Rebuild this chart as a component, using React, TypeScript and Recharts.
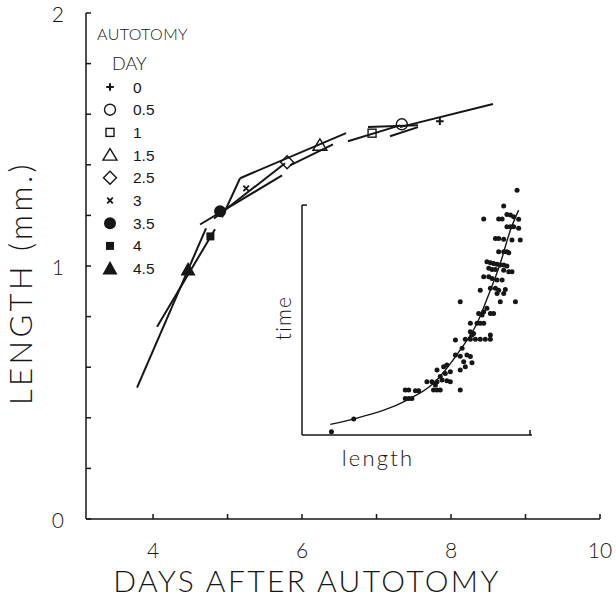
import React from 'react'
import { ComposedChart, Line, Scatter, XAxis, YAxis, Label, ReferenceLine } from 'recharts'

const ink = '#161616'
const thin = 'Lato, "DejaVu Sans", sans-serif'
const plain = '"Liberation Sans", Arial, sans-serif'

// autotomy day of each curve, with the point it is marked at
const days = ['0', '0.5', '1', '1.5', '2.5', '3', '3.5', '4', '4.5']
const dayX = [7.85, 7.34, 6.94, 6.24, 5.8, 5.25, 4.9, 4.77, 4.47]
const dayY = [1.572, 1.56, 1.525, 1.477, 1.41, 1.307, 1.216, 1.117, 0.986]

// short tangent lines through the marked points: [x1, y1, x2, y2]
const tangents = [
  [7.315, 1.549, 8.564, 1.64],
  [7.181, 1.513, 7.557, 1.549],
  [6.617, 1.493, 7.315, 1.556],
  [6.886, 1.549, 7.557, 1.556],
  [5.839, 1.398, 6.416, 1.481],
  [5.168, 1.347, 6.591, 1.525],
  [4.819, 1.188, 5.772, 1.406],
  [4.926, 1.192, 5.168, 1.347],
  [4.631, 1.164, 5.732, 1.358],
  [4.054, 0.76, 4.832, 1.145],
  [3.785, 0.519, 4.711, 1.149],
]

const xTicks = [4, 5, 6, 7, 8, 9, 10]
const xLabels = [4, 6, 8, 10]
const yTicks = [0, 0.2, 0.4, 0.6, 0.8, 1, 1.2, 1.4, 1.6, 1.8, 2]
const yLabels = [0, 1, 2]

// inset: time against length (arbitrary units)
const insetLength = [
  93.5, 87.7, 79.0, 85.5, 87.0, 89.1, 90.6, 92.0, 94.2, 94.2,
  84.1, 85.5, 87.7, 91.3, 94.9, 89.1, 90.6, 92.0, 85.5, 87.7,
  89.1, 89.9, 80.4, 81.9, 83.3, 84.8, 86.2, 87.7, 89.1, 81.2,
  82.6, 84.1, 87.7, 89.9, 91.3, 79.0, 81.2, 82.6, 84.8, 87.0,
  77.5, 81.9, 84.1, 85.5, 88.4, 87.7, 84.8, 68.8, 86.2, 92.8,
  80.4, 79.0, 76.8, 78.3, 81.9, 83.3, 73.2, 76.1, 77.5, 79.0,
  73.2, 74.6, 73.9, 66.7, 71.0, 73.2, 75.4, 77.5, 79.7, 81.9,
  81.9, 69.6, 66.7, 68.8, 71.7, 73.2, 70.3, 73.9, 68.8, 71.0,
  58.7, 61.6, 63.0, 64.5, 62.3, 60.1, 54.3, 56.5, 58.7, 60.9,
  63.0, 64.5, 58.0, 57.2, 58.7, 60.1, 44.9, 46.4, 49.3, 50.7,
  44.9, 46.4, 47.8, 68.8, 22.5, 12.8,
]
const insetTime = [
  106.5, 99.6, 93.9, 93.9, 93.9, 95.9, 95.7, 94.9, 93.8, 89.9,
  85.5, 85.5, 85.1, 84.8, 84.8, 90.6, 90.6, 90.6, 79.7, 79.7,
  79.7, 79.3, 75.4, 74.9, 74.6, 74.3, 73.9, 73.9, 73.5, 72.5,
  72.0, 72.0, 71.7, 71.0, 71.0, 68.8, 68.8, 68.1, 67.4, 67.4,
  63.0, 63.8, 63.8, 63.0, 63.3, 61.6, 61.6, 58.0, 58.0, 58.0,
  55.1, 53.6, 52.9, 52.2, 52.9, 52.9, 48.6, 48.6, 48.6, 48.6,
  44.9, 44.2, 43.5, 41.3, 41.6, 41.6, 41.6, 41.6, 41.6, 41.6,
  43.5, 37.7, 34.8, 34.3, 34.8, 34.1, 31.9, 31.4, 28.3, 29.7,
  28.3, 29.7, 30.4, 27.5, 26.8, 25.4, 23.2, 23.2, 23.2, 23.9,
  23.6, 23.2, 21.7, 19.6, 19.6, 19.6, 19.6, 19.6, 19.3, 19.3,
  15.9, 15.9, 15.9, 19.6, 7.0, 1.4,
]
const fitLength = [12.3, 22.5, 45.7, 57.2, 68.8, 76.1, 81.9, 86.2, 90.6, 94.2]
const fitTime = [4.6, 7.0, 15.2, 22.5, 37.0, 48.6, 63.0, 74.6, 89.1, 97.8]

function Marker({ kind, cx, cy }: { kind: string; cx: number; cy: number }) {
  const w = 1.4
  switch (kind) {
    case '0':
      return <path d={`M${cx - 3.8} ${cy}H${cx + 3.8}M${cx} ${cy - 3.8}V${cy + 3.8}`} stroke={ink} strokeWidth={2} />
    case '0.5':
      return <circle cx={cx} cy={cy} r={5.5} fill="none" stroke={ink} strokeWidth={w} />
    case '1':
      return <rect x={cx - 4} y={cy - 4} width={8} height={8} fill="none" stroke={ink} strokeWidth={w} />
    case '1.5':
      return <path d={`M${cx} ${cy - 6.5}L${cx + 7} ${cy + 5}H${cx - 7}Z`} fill="none" stroke={ink} strokeWidth={w} />
    case '2.5':
      return <path d={`M${cx} ${cy - 6.5}L${cx + 6.5} ${cy}L${cx} ${cy + 6.5}L${cx - 6.5} ${cy}Z`} fill="none" stroke={ink} strokeWidth={w} />
    case '3':
      return <path d={`M${cx - 2.8} ${cy - 2.8}L${cx + 2.8} ${cy + 2.8}M${cx + 2.8} ${cy - 2.8}L${cx - 2.8} ${cy + 2.8}`} stroke={ink} strokeWidth={1.8} />
    case '3.5':
      return <circle cx={cx} cy={cy} r={6} fill={ink} />
    case '4':
      return <rect x={cx - 4} y={cy - 4} width={8} height={8} fill={ink} />
    default:
      return <path d={`M${cx} ${cy - 7.5}L${cx + 7.5} ${cy + 6}H${cx - 7.5}Z`} fill={ink} />
  }
}

// ticks point into the plot, as in the original figure
function XTick({ x, payload }: any) {
  const v = payload.value
  return (
    <g>
      <line x1={x} x2={x} y1={519} y2={514} stroke={ink} strokeWidth={1.5} />
      {xLabels.includes(v) && (
        <text x={x} y={558} textAnchor="middle" fontFamily={thin} fontWeight={300} fontSize={21} fill={ink}>{v}</text>
      )}
    </g>
  )
}

function YTick({ y, payload }: any) {
  const v = payload.value
  return (
    <g>
      <line x1={86} x2={91} y1={y} y2={y} stroke={ink} strokeWidth={1.5} />
      {yLabels.includes(v) && (
        <text x={64} y={y + 9} textAnchor="end" fontFamily={thin} fontWeight={300} fontSize={21} fill={ink}>{v}</text>
      )}
    </g>
  )
}

function LegendBox() {
  return (
    <svg width={616} height={599} style={{ position: 'absolute', left: 0, top: 0, pointerEvents: 'none' }}>
      <text x={97} y={40} fontFamily={thin} fontWeight={300} fontSize={16} letterSpacing={0.4} fill={ink}>AUTOTOMY</text>
      <text x={112} y={70} fontFamily={thin} fontWeight={300} fontSize={18} fill={ink}>DAY</text>
      {days.map((d, i) => {
        const cy = 87 + i * 22.7
        return (
          <g key={d}>
            <Marker kind={d} cx={110} cy={cy} />
            <text x={133} y={cy + 5.5} fontFamily={plain} fontSize={15.5} fill={ink}>{d}</text>
          </g>
        )
      })}
    </svg>
  )
}

function Inset() {
  const pts = insetLength.map((x, i) => ({ x, y: insetTime[i] }))
  const fit = fitLength.map((x, i) => ({ x, y: fitTime[i] }))
  return (
    <div style={{ position: 'absolute', left: 262, top: 180 }}>
      <ComposedChart width={280} height={295} margin={{ top: 9, right: 10, bottom: 0, left: 20 }}>
        <XAxis type="number" dataKey="x" domain={[0, 100]} ticks={[100]} tickLine={false}
          tick={({ x }: any) => <line x1={x} x2={x} y1={255} y2={250} stroke={ink} strokeWidth={1.5} />}
          height={40} stroke={ink} strokeWidth={1.5}>
          <Label content={() => (
            <text x={116} y={286} textAnchor="middle" fontFamily={thin} fontWeight={300} fontSize={22} letterSpacing={2.2} fill={ink}>length</text>
          )} />
        </XAxis>
        <YAxis type="number" dataKey="y" domain={[0, 107]} ticks={[100]} tickLine={false}
          tick={({ y }: any) => <line x1={40} x2={45} y1={y} y2={y} stroke={ink} strokeWidth={1.5} />}
          width={20} axisLine={false}>
          <Label content={() => (
            <text transform="translate(29 138) rotate(-90)" textAnchor="middle" fontFamily={thin} fontWeight={300} fontSize={21} letterSpacing={1.2} fill={ink}>time</text>
          )} />
        </YAxis>
        <ReferenceLine segment={[{ x: 0, y: 0 }, { x: 0, y: 100 }]} stroke={ink} strokeWidth={1.5} />
        <Line data={fit} dataKey="y" type="monotone" stroke={ink} strokeWidth={1.4} dot={false} activeDot={false} isAnimationActive={false} />
        <Scatter data={pts} dataKey="y" isAnimationActive={false}
          shape={(p: any) => <circle cx={p.cx} cy={p.cy} r={2.5} fill={ink} />} />
      </ComposedChart>
    </div>
  )
}

export default function App() {
  return (
    <div style={{ position: 'absolute', left: 0, top: 0, width: 616, height: 599, background: '#fff' }}>
      <ComposedChart width={616} height={599} margin={{ top: 13, right: 16, bottom: 0, left: 0 }}>
        <XAxis type="number" dataKey="x" domain={[3.1, 10]} ticks={xTicks} tickLine={false} tick={<XTick />}
          height={80} stroke={ink} strokeWidth={1.5}>
          <Label content={() => (
            <text x={307} y={592} textAnchor="middle" fontFamily={thin} fontWeight={300} fontSize={30} letterSpacing={2.4} fill={ink}>DAYS AFTER AUTOTOMY</text>
          )} />
        </XAxis>
        <YAxis type="number" domain={[0, 2]} ticks={yTicks} tickLine={false} tick={<YTick />}
          width={86} stroke={ink} strokeWidth={1.5}>
          <Label content={() => (
            <text transform="translate(32 283) rotate(-90)" textAnchor="middle" fontFamily={thin} fontWeight={300} fontSize={31} letterSpacing={3.5} fill={ink}>LENGTH (mm.)</text>
          )} />
        </YAxis>
        {tangents.map((t, i) => (
          <Line key={'t' + i} data={[{ x: t[0], y: t[1] }, { x: t[2], y: t[3] }]} dataKey="y" type="linear"
            stroke={ink} strokeWidth={2} dot={false} activeDot={false} isAnimationActive={false} />
        ))}
        {days.map((d, i) => (
          <Scatter key={d} data={[{ x: dayX[i], y: dayY[i] }]} dataKey="y" isAnimationActive={false}
            shape={(p: any) => <Marker kind={d} cx={p.cx} cy={p.cy} />} />
        ))}
      </ComposedChart>
      <LegendBox />
      <Inset />
    </div>
  )
}
